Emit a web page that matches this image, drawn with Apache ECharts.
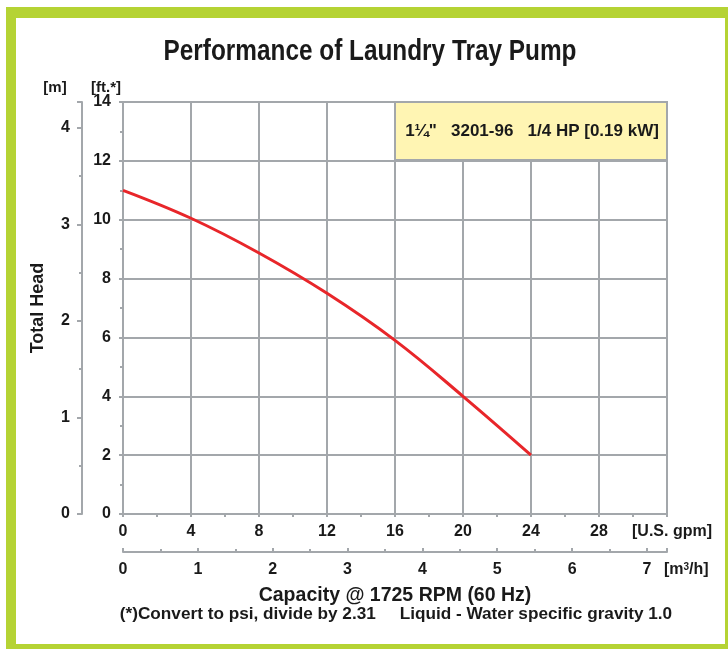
<!DOCTYPE html>
<html>
<head>
<meta charset="utf-8">
<script src="https://cdn.jsdelivr.net/npm/echarts@6/dist/echarts.min.js"></script>
<style>
  html, body { margin: 0; padding: 0; background: #fff; }
  #chart { width: 728px; height: 649px; }
</style>
</head>
<body>
<div id="chart"></div>
<script>
// flow in U.S. gpm, head in ft
const flowGpm = [0, 4, 8, 12, 16, 20, 24];
const headFt = [11.0, 10.05, 8.87, 7.5, 5.9, 4.0, 2.0];

const gpmMax = 32;
const ftMax = 14;
const FT_PER_M = 3.2808;
const GPM_PER_M3H = 4.4029;

const titleText = 'Performance of Laundry Tray Pump';
const modelText = '1\u00BC"   3201-96   1/4 HP [0.19 kW]';

const GRID_COLOR = '#a3a7ab';
const GREEN = '#b5d334';
const INK = '#1a1a1a';
const FONT = '"Liberation Sans", Arial, sans-serif';

const dom = document.getElementById('chart');
const myChart = echarts.init(dom);

const lbl = { color: INK, fontWeight: 'bold', fontSize: 16, fontFamily: FONT };

function txt(x, y, text, size, extra) {
    return Object.assign({
        type: 'text', x: x, y: y,
        style: { text: text, fill: INK, font: 'bold ' + size + 'px ' + FONT, align: 'center', verticalAlign: 'middle' }
    }, extra || {});
}

const option = {
    animation: false,
    backgroundColor: '#fff',
    grid: { left: 123, right: 61, top: 102, bottom: 135 },
    xAxis: [
        {
            type: 'value',
            min: 0, max: gpmMax, interval: 4,
            axisLine: { show: true, onZero: false, lineStyle: { color: GRID_COLOR, width: 2 } },
            axisTick: { show: true, length: 3, lineStyle: { color: GRID_COLOR, width: 2 } },
            minorTick: { show: true, splitNumber: 2, length: 3, lineStyle: { color: GRID_COLOR, width: 2 } },
            splitLine: { show: true, lineStyle: { color: GRID_COLOR, width: 2 } },
            axisLabel: Object.assign({ margin: 10, showMaxLabel: false }, lbl)
        },
        {
            type: 'value',
            position: 'bottom',
            offset: 38,
            min: 0, max: gpmMax / GPM_PER_M3H, interval: 1,
            axisLine: { show: true, onZero: false, lineStyle: { color: GRID_COLOR, width: 2 } },
            axisTick: { show: true, inside: true, length: 4, lineStyle: { color: GRID_COLOR, width: 2 } },
            minorTick: { show: true, splitNumber: 2, length: 3, lineStyle: { color: GRID_COLOR, width: 2 } },
            splitLine: { show: false },
            axisLabel: Object.assign({ margin: 10, showMaxLabel: false }, lbl)
        }
    ],
    yAxis: [
        {
            type: 'value',
            min: 0, max: ftMax, interval: 2,
            axisLine: { show: true, onZero: false, lineStyle: { color: GRID_COLOR, width: 2 } },
            axisTick: { show: true, length: 4, lineStyle: { color: GRID_COLOR, width: 2 } },
            minorTick: { show: true, splitNumber: 2, length: 3, lineStyle: { color: GRID_COLOR, width: 2 } },
            splitLine: { show: true, lineStyle: { color: GRID_COLOR, width: 2 } },
            axisLabel: Object.assign({ margin: 12 }, lbl)
        },
        {
            type: 'value',
            position: 'left',
            offset: 41,
            min: 0, max: ftMax / FT_PER_M, interval: 1,
            axisLine: { show: true, onZero: false, lineStyle: { color: GRID_COLOR, width: 2 } },
            axisTick: { show: true, length: 5, lineStyle: { color: GRID_COLOR, width: 2 } },
            minorTick: { show: true, splitNumber: 2, length: 3, lineStyle: { color: GRID_COLOR, width: 2 } },
            splitLine: { show: false },
            axisLabel: Object.assign({ margin: 12, showMaxLabel: false }, lbl)
        }
    ],
    series: [{
        type: 'line',
        xAxisIndex: 0,
        yAxisIndex: 0,
        smooth: 0.4,
        showSymbol: false,
        data: flowGpm.map((q, i) => [q, headFt[i]]),
        lineStyle: { color: '#e8262a', width: 3 },
        z: 3
    }],
    graphic: [
        // green frame
        { type: 'rect', shape: { x: 6, y: 7, width: 740, height: 660 }, style: { fill: GREEN }, z: -10, silent: true },
        { type: 'rect', shape: { x: 16, y: 18, width: 709, height: 626 }, style: { fill: '#fff' }, z: -9, silent: true },
        // title (condensed look)
        {
            type: 'text', x: 370, y: 52, scaleX: 0.84,
            style: {
                text: titleText, fill: INK, align: 'center', verticalAlign: 'middle',
                font: 'bold 29px ' + FONT
            }
        },
        // model box
        {
            type: 'rect', z: 50,
            shape: { x: 395, y: 102, width: 272, height: 58 },
            style: { fill: '#fff5b3', stroke: GRID_COLOR, lineWidth: 2 }
        },
        txt(532, 131, modelText, 17, { z: 51 }),
        // unit labels
        txt(55, 88, '[m]', 15),
        txt(106, 88, '[ft.*]', 15),
        txt(672, 532, '[U.S. gpm]', 16),
        {
            type: 'text', x: 664, y: 570,
            style: {
                text: '{a|[m}{s|3}{a|/h]}',
                verticalAlign: 'middle',
                rich: {
                    a: { fill: INK, font: 'bold 16px ' + FONT },
                    s: { fill: INK, font: 'bold 10px ' + FONT, verticalAlign: 'top', padding: [0, 0, 6, 0] }
                }
            }
        },
        // axis titles
        txt(38, 308, 'Total Head', 18, { rotation: Math.PI / 2 }),
        txt(395, 596, 'Capacity @ 1725 RPM (60 Hz)', 19.5),
        txt(396, 614, '(*)Convert to psi, divide by 2.31     Liquid - Water specific gravity 1.0', 17.2)
    ]
};

myChart.setOption(option, true);
window.addEventListener('resize', function () { myChart.resize(); });
</script>
</body>
</html>
